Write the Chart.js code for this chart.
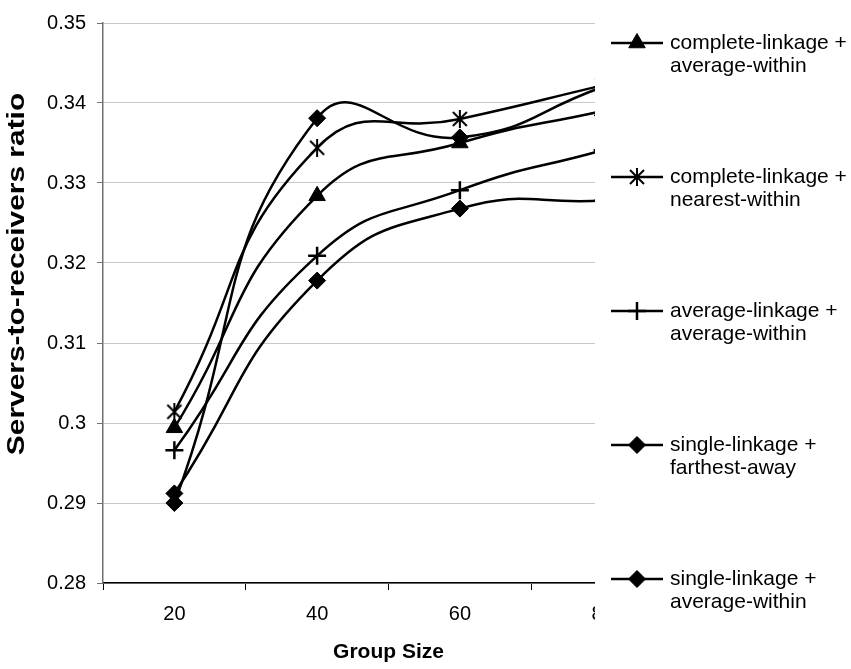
<!DOCTYPE html>
<html>
<head>
<meta charset="utf-8">
<script src="https://cdn.jsdelivr.net/npm/chart.js@4/dist/chart.umd.min.js"></script>
<style>
  html, body { margin: 0; padding: 0; background: #fff; }
  canvas { display: block; }
</style>
</head>
<body>
<canvas id="chart" width="851" height="669"></canvas>
<script>
// group sizes on the x axis
const groupSizes = ['20', '40', '60', '80']

// servers-to-receivers ratio per method
const completeAverage = [0.2994, 0.3284, 0.3350, 0.3390]
const completeNearest = [0.3014, 0.3344, 0.3380, 0.3422]
const averageAverage = [0.2966, 0.3209, 0.3291, 0.3341]
const singleFarthest = [0.2900, 0.3381, 0.3357, 0.3420]
const singleAverage = [0.2912, 0.3178, 0.3268, 0.3278]

const yTicks = [0.28, 0.29, 0.3, 0.31, 0.32, 0.33, 0.34, 0.35]

const FONT = "'Liberation Sans', Arial, sans-serif"

// asterisk marker: an X with a vertical bar through it
function makeStar(size) {
    const c = document.createElement('canvas')
    c.width = size
    c.height = size
    const g = c.getContext('2d')
    g.strokeStyle = '#000'
    g.lineWidth = 2
    const m = 2
    g.beginPath()
    g.moveTo(m, m); g.lineTo(size - m, size - m)
    g.moveTo(size - m, m); g.lineTo(m, size - m)
    g.moveTo(size / 2, 0); g.lineTo(size / 2, size)
    g.stroke()
    return c
}
const star = makeStar(18)

function series(label, data, pointStyle, radius) {
    return {
        label,
        data,
        borderColor: '#000',
        backgroundColor: '#000',
        borderWidth: 2.5,
        tension: 0.5,
        pointStyle,
        pointRadius: radius,
        pointBorderWidth: pointStyle === 'cross' ? 2.5 : 1,
        pointBackgroundColor: '#000',
        pointBorderColor: '#000',
        fill: false
    }
}

const legendLabels = [
    ['complete-linkage +', 'average-within'],
    ['complete-linkage +', 'nearest-within'],
    ['average-linkage +', 'average-within'],
    ['single-linkage +', 'farthest-away'],
    ['single-linkage +', 'average-within']
]

const yTitle = 'Servers-to-receivers ratio'

// legend panel drawn over the right edge of the plot, plus the stretched y title
const sideLegend = {
    id: 'sideLegend',
    afterDraw(chart) {
        const { ctx } = chart
        ctx.save()
        ctx.fillStyle = '#fff'
        ctx.fillRect(595, 0, chart.width - 595, chart.height)
        ctx.font = `21px ${FONT}`
        ctx.textBaseline = 'middle'
        ctx.textAlign = 'left'
        chart.data.datasets.forEach((ds, i) => {
            const y = 43 + i * 134
            ctx.strokeStyle = '#000'
            ctx.fillStyle = '#000'
            ctx.lineWidth = 2.5
            ctx.beginPath()
            ctx.moveTo(611, y)
            ctx.lineTo(663, y)
            ctx.stroke()
            ctx.lineWidth = ds.pointBorderWidth
            Chart.helpers.drawPoint(ctx, {
                pointStyle: ds.pointStyle,
                radius: ds.pointRadius,
                rotation: 0,
                borderWidth: ds.pointBorderWidth
            }, 637, y)
            ctx.fillStyle = '#000'
            legendLabels[i].forEach((line, j) => ctx.fillText(line, 670, y + j * 23))
        })
        ctx.restore()

        ctx.save()
        ctx.translate(18, 274)
        ctx.rotate(-Math.PI / 2)
        ctx.scale(1.3, 1)
        ctx.font = `bold 23px ${FONT}`
        ctx.fillStyle = '#000'
        ctx.textAlign = 'center'
        ctx.textBaseline = 'middle'
        ctx.fillText(yTitle, 0, 0)
        ctx.restore()
    }
}

new Chart(document.getElementById('chart'), {
    type: 'line',
    data: {
        labels: groupSizes,
        datasets: [
            series('complete-linkage + average-within', completeAverage, 'triangle', 9.5),
            series('complete-linkage + nearest-within', completeNearest, star, 9),
            series('average-linkage + average-within', averageAverage, 'cross', 9),
            series('single-linkage + farthest-away', singleFarthest, 'rectRot', 8.5),
            series('single-linkage + average-within', singleAverage, 'rectRot', 8.5)
        ]
    },
    options: {
        responsive: false,
        animation: false,
        layout: { padding: { top: 21, right: 177, bottom: 0, left: 0 } },
        plugins: {
            legend: { display: false },
            tooltip: { enabled: false }
        },
        scales: {
            x: {
                offset: true,
                afterFit: s => { s.height = 86 },
                grid: {
                    offset: true,
                    drawOnChartArea: false,
                    tickLength: 7,
                    color: '#000'
                },
                border: { color: '#000', width: 1.5 },
                ticks: {
                    color: '#000',
                    padding: 12,
                    font: { family: FONT, size: 20 }
                },
                title: {
                    display: true,
                    text: 'Group Size',
                    color: '#000',
                    padding: { top: 0, bottom: 4 },
                    font: { family: FONT, size: 21, weight: 'bold' }
                }
            },
            y: {
                min: 0.28,
                max: 0.35,
                afterFit: s => { s.width = 103 },
                afterBuildTicks: s => { s.ticks = yTicks.map(v => ({ value: v })) },
                grid: {
                    color: '#c8c8c8',
                    tickColor: '#707070',
                    tickLength: 6
                },
                border: { color: '#707070', width: 1.5 },
                ticks: {
                    color: '#000',
                    padding: 11,
                    font: { family: FONT, size: 20 },
                    callback: v => String(+v.toFixed(2))
                }
            }
        }
    },
    plugins: [sideLegend]
})
</script>
</body>
</html>
